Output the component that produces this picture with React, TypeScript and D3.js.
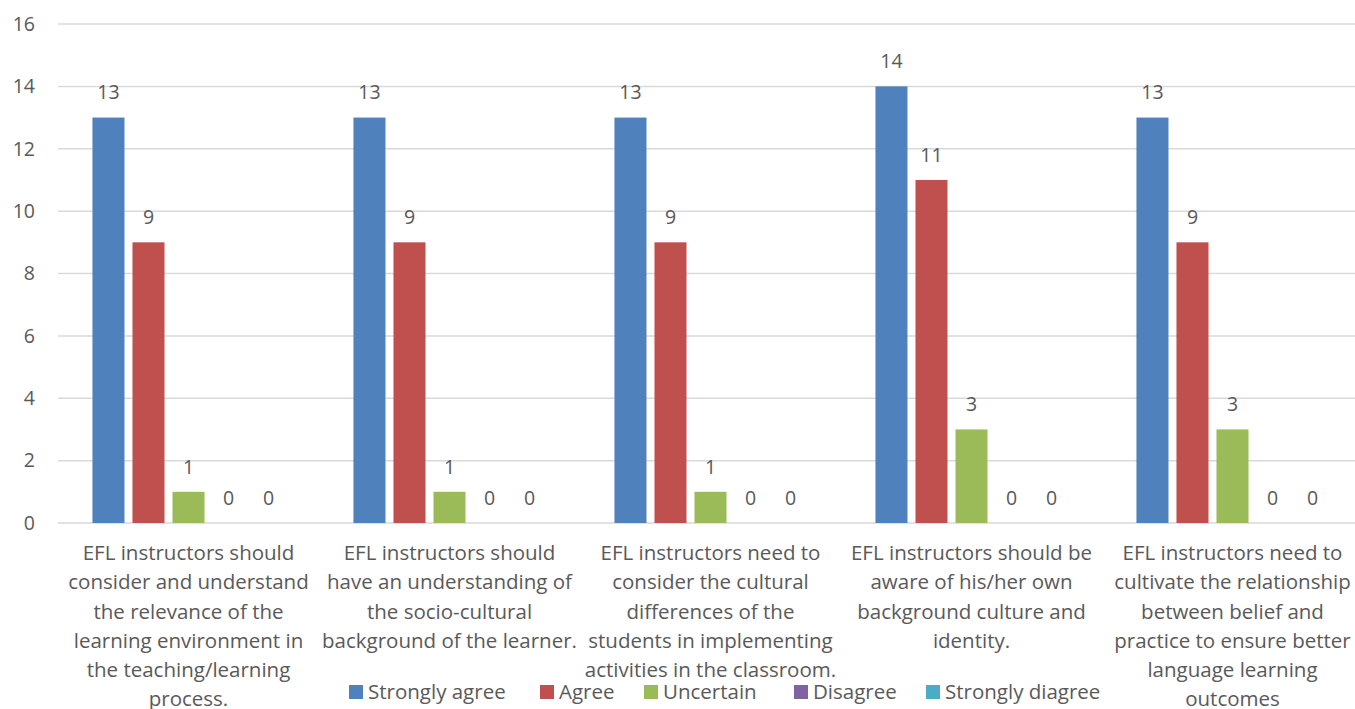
import React from 'react';
import * as d3 from 'd3';

// Survey items (wrapped as in the original chart)
const categories: string[][] = [
  ['EFL instructors should', 'consider and understand', 'the relevance of the', 'learning environment in', 'the teaching/learning', 'process.'],
  ['EFL instructors should', 'have an understanding of', 'the socio-cultural', 'background of the learner.'],
  ['EFL instructors need to', 'consider the cultural', 'differences of the', 'students in implementing', 'activities in the classroom.'],
  ['EFL instructors should be', 'aware of his/her own', 'background culture and', 'identity.'],
  ['EFL instructors need to', 'cultivate the relationship', 'between belief and', 'practice to ensure better', 'language learning', 'outcomes'],
];

const seriesNames = ['Strongly agree', 'Agree', 'Uncertain', 'Disagree', 'Strongly diagree'];
const seriesColors = ['#4F81BD', '#C0504D', '#9BBB59', '#8064A2', '#4BACC6'];

const stronglyAgree = [13, 13, 13, 14, 13];
const agree = [9, 9, 9, 11, 9];
const uncertain = [1, 1, 1, 3, 3];
const disagree = [0, 0, 0, 0, 0];
const stronglyDisagree = [0, 0, 0, 0, 0];

const yTicks = [0, 2, 4, 6, 8, 10, 12, 14, 16];

const width = 1355;
const height = 709;
const marginLeft = 58;
const marginRight = -8;
const marginTop = 24;
const plotBottom = 523;
const font = "'Open Sans', sans-serif";
const textColor = '#595959';

export default function App() {
  const values = [stronglyAgree, agree, uncertain, disagree, stronglyDisagree];
  const idx = categories.map((_, i) => i);

  const x0 = d3.scaleBand<number>()
    .domain(idx)
    .range([marginLeft, width - marginRight])
    .paddingInner(0.264)
    .paddingOuter(0.132);

  const x1 = d3.scaleBand<number>()
    .domain(seriesNames.map((_, i) => i))
    .range([0, x0.bandwidth()])
    .paddingInner(0.2);

  const y = d3.scaleLinear().domain([0, 16]).range([plotBottom, marginTop]);

  const band = (width - marginRight - marginLeft) / categories.length;

  // legend layout
  const legendX = [349, 540, 644, 794, 926];

  return (
    <svg width={width} height={height} style={{ position: 'absolute', left: 0, top: 0, background: '#fff' }}>
      {yTicks.map(t => (
        <g key={t}>
          <line x1={marginLeft} x2={width} y1={y(t)} y2={y(t)} stroke="#d9d9d9" strokeWidth={1.5} />
          <text x={35} y={y(t)} dy="0.35em" textAnchor="end" fontFamily={font} fontSize={19.5} fill={textColor}>{t}</text>
        </g>
      ))}
      {idx.map(ci => (
        <g key={ci} transform={`translate(${x0(ci)},0)`}>
          {values.map((s, si) => (
            <g key={si}>
              <rect x={x1(si)} y={y(s[ci])} width={x1.bandwidth()} height={y(0) - y(s[ci])} fill={seriesColors[si]} />
              <text x={(x1(si) as number) + x1.bandwidth() / 2} y={y(s[ci]) - 25} dy="0.35em" textAnchor="middle" fontFamily={font} fontSize={19.5} fill={textColor}>{s[ci]}</text>
            </g>
          ))}
        </g>
      ))}
      {categories.map((lines, ci) => (
        <text key={ci} textAnchor="middle" fontFamily={font} fontSize={20.5} fill={textColor}>
          {lines.map((l, li) => (
            <tspan key={li} x={marginLeft + band * (ci + 0.5)} y={553 + li * 29.2} dy="0.35em">{l}</tspan>
          ))}
        </text>
      ))}
      {seriesNames.map((n, i) => (
        <g key={n} transform={`translate(${legendX[i]},692)`}>
          <rect x={0} y={-7} width={14} height={14} fill={seriesColors[i]} />
          <text x={19} y={0} dy="0.35em" fontFamily={font} fontSize={20.5} fill={textColor}>{n}</text>
        </g>
      ))}
    </svg>
  );
}
